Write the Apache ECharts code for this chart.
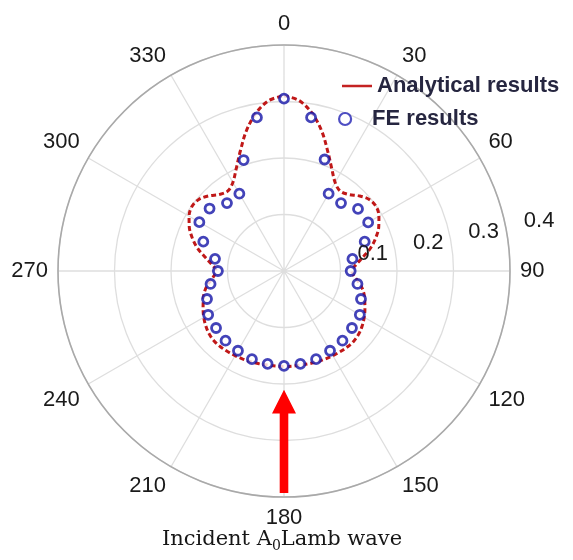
<!DOCTYPE html>
<html>
<head>
<meta charset="utf-8">
<script src="https://cdn.jsdelivr.net/npm/echarts@6/dist/echarts.min.js"></script>
<style>
  html, body { margin: 0; padding: 0; background: #ffffff; }
  #chart { width: 573px; height: 560px; }
</style>
</head>
<body>
<div id="chart"></div>
<script>
// Scattered A0 wave amplitude versus direction (degrees, clockwise from top)
const analyticalAngles = [
  0, 5, 10, 15, 20, 25, 30, 35, 40, 45, 50, 55, 60, 65, 70, 75, 80, 85,
  90, 95, 100, 105, 110, 115, 120, 125, 130, 135, 140, 145, 150, 155, 160, 165, 170, 175,
  180, 185, 190, 195, 200, 205, 210, 215, 220, 225, 230, 235, 240, 245, 250, 255, 260, 265,
  270, 275, 280, 285, 290, 295, 300, 305, 310, 315, 320, 325, 330, 335, 340, 345, 350, 355, 360
];
const analyticalValues = [
  0.310, 0.303, 0.284, 0.257, 0.226, 0.200, 0.181, 0.173, 0.177, 0.188, 0.197, 0.199, 0.194, 0.185, 0.173, 0.159, 0.142, 0.128,
  0.120, 0.126, 0.137, 0.146, 0.152, 0.158, 0.164, 0.169, 0.173, 0.175, 0.175, 0.174, 0.173, 0.172, 0.171, 0.170, 0.169, 0.169,
  0.169, 0.169, 0.169, 0.170, 0.171, 0.172, 0.173, 0.174, 0.175, 0.175, 0.173, 0.169, 0.164, 0.158, 0.152, 0.146, 0.137, 0.126,
  0.120, 0.128, 0.142, 0.159, 0.173, 0.185, 0.194, 0.199, 0.197, 0.188, 0.177, 0.173, 0.181, 0.200, 0.226, 0.257, 0.284, 0.303, 0.310
];
const feAngles = [
  0, 10, 20, 30, 40, 50, 60, 70, 80, 90, 100, 110, 120, 130, 140, 150, 160, 170,
  180, 190, 200, 210, 220, 230, 240, 250, 260, 270, 280, 290, 300, 310, 320, 330, 340, 350
];
const feValues = [
  0.305, 0.276, 0.210, 0.158, 0.157, 0.171, 0.172, 0.152, 0.123, 0.118, 0.132, 0.145, 0.155, 0.157, 0.161, 0.163, 0.166, 0.167,
  0.168, 0.167, 0.166, 0.163, 0.161, 0.157, 0.155, 0.145, 0.132, 0.117, 0.124, 0.152, 0.173, 0.172, 0.157, 0.158, 0.209, 0.276
];
const radiusTicks = [0.1, 0.2, 0.3, 0.4];
const seriesNames = ['Analytical results', 'FE results'];

// Incident wave arrow along the 180 degree direction (radius units)
const arrowTail = 0.393;
const arrowHeadBase = 0.252;
const arrowTip = 0.21;

const SANS = 'Arial, "Liberation Sans", sans-serif';
const SERIF = '"DejaVu Serif", serif';
const chart = echarts.init(document.getElementById('chart'), null, { renderer: 'canvas' });

const pair = (rs, as) => rs.map((r, i) => [r, as[i]]);

chart.setOption({
  animation: false,
  backgroundColor: '#ffffff',
  polar: { center: [284, 271], radius: 226 },
  angleAxis: {
    type: 'value', min: 0, max: 360, interval: 30,
    startAngle: 90, clockwise: true,
    axisLine: { show: true, lineStyle: { color: '#a9a9a9', width: 1.6 } },
    axisTick: { show: false },
    axisLabel: { show: true, margin: 10, fontSize: 22, color: '#1a1a1a', fontFamily: SANS },
    splitLine: { show: true, lineStyle: { color: '#dedede', width: 1.3 } }
  },
  radiusAxis: {
    type: 'value', min: 0, max: 0.4, interval: 0.1,
    axisLine: { show: false }, axisTick: { show: false }, axisLabel: { show: false },
    splitLine: { show: true, lineStyle: { color: '#dedede', width: 1.3 } }
  },
  legend: [
    {
      data: [{ name: seriesNames[0], icon: 'rect' }],
      orient: 'vertical', left: 342, top: 75, padding: 0,
      itemWidth: 30, itemHeight: 2.5, itemGap: 0,
      itemStyle: { color: '#c42222' },
      textStyle: { fontSize: 22, fontWeight: 'bold', color: '#262640', fontFamily: SANS }
    },
    {
      data: [{ name: seriesNames[1], icon: 'circle' }],
      orient: 'vertical', left: 338, top: 108, padding: 0,
      itemWidth: 30, itemHeight: 12, itemGap: 0,
      itemStyle: { color: '#ffffff', borderColor: '#2222b4', borderWidth: 2.2 },
      textStyle: { fontSize: 22, fontWeight: 'bold', color: '#262640', fontFamily: SANS, padding: [0, 0, 0, 7] }
    }
  ],
  series: [
    {
      name: seriesNames[0], type: 'line', coordinateSystem: 'polar',
      data: pair(analyticalValues, analyticalAngles),
      showSymbol: false, smooth: 0.35, z: 2,
      itemStyle: { color: '#c42222' },
      lineStyle: { color: '#c01818', width: 3, type: [5, 3] }
    },
    {
      name: seriesNames[1], type: 'scatter', coordinateSystem: 'polar',
      data: pair(feValues, feAngles),
      symbol: 'circle', symbolSize: 9, z: 3,
      itemStyle: { color: '#ffffff', borderColor: '#1414a8', borderWidth: 2.8 }
    }
  ]
});

// Radius tick labels, placed along the 79 degree direction
const at = (r, a) => chart.convertToPixel({ polarIndex: 0 }, [r, a]);
const graphics = radiusTicks.map(v => {
  const p = at(v + 0.06, 79);
  return {
    type: 'text', x: p[0], y: p[1], z: 10,
    style: { text: String(v), fontSize: 22, fill: '#1a1a1a', fontFamily: SANS, align: 'center', verticalAlign: 'middle' }
  };
});

// Arrow marking the incident wave direction
const tip = at(arrowTip, 180), base = at(arrowHeadBase, 180), tail = at(arrowTail, 180);
const headHalf = 12, shaftHalf = 4.3;
graphics.push({
  type: 'polygon', z: 10,
  shape: { points: [
    [tip[0], tip[1]],
    [base[0] + headHalf, base[1]], [base[0] + shaftHalf, base[1]],
    [tail[0] + shaftHalf, tail[1]], [tail[0] - shaftHalf, tail[1]],
    [base[0] - shaftHalf, base[1]], [base[0] - headHalf, base[1]]
  ] },
  style: { fill: '#ff0000' }
});

// Caption under the plot
graphics.push({
  type: 'text', x: 282, y: 540, z: 10,
  style: {
    text: '{a|Incident A}{s|0}{a|Lamb wave}',
    align: 'center', verticalAlign: 'middle',
    rich: {
      a: { fontFamily: SERIF, fontSize: 21, fill: '#161616', lineHeight: 26, verticalAlign: 'middle' },
      s: { fontFamily: SERIF, fontSize: 14, fill: '#161616', lineHeight: 26, verticalAlign: 'bottom', padding: [6, 0, 0, 0] }
    }
  }
});

chart.setOption({ graphic: graphics });
</script>
</body>
</html>
